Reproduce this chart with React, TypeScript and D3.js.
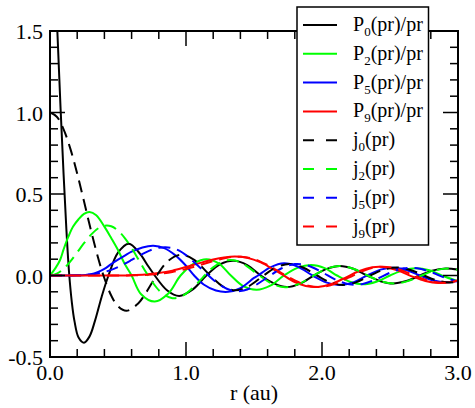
import React from "react";
import * as d3 from "d3";

type Pt = [number, number];

// solid curves, P_l(pr)/pr
const p0: Pt[] = [
  [0, 2.6], [0.03, 2.05], [0.054, 1.5], [0.078, 1.02], [0.1, 0.62], [0.12, 0.29],
  [0.14, 0.02], [0.16, -0.16], [0.18, -0.28], [0.21, -0.38], [0.25, -0.412],
  [0.29, -0.375], [0.33, -0.28], [0.38, -0.13], [0.43, 0.0], [0.5, 0.14],
  [0.58, 0.195], [0.66, 0.135], [0.72, 0.06], [0.77, 0.0], [0.86, -0.09],
  [0.95, -0.125], [1.05, -0.085], [1.15, 0.0], [1.25, 0.068], [1.35, 0.09],
  [1.45, 0.064], [1.55, 0], [1.65, -0.05], [1.74, -0.071], [1.84, -0.05],
  [1.94, 0], [2.04, 0.042], [2.13, 0.058], [2.23, 0.041], [2.33, 0],
  [2.43, -0.035], [2.52, -0.049], [2.62, -0.034], [2.72, 0], [2.81, 0.03],
  [2.91, 0.043], [3.0, 0.036],
];
const p2: Pt[] = [
  [0, 0], [0.04, 0.045], [0.074, 0.095], [0.1, 0.16], [0.135, 0.238], [0.17, 0.3],
  [0.21, 0.345], [0.25, 0.378], [0.29, 0.39], [0.34, 0.37], [0.4, 0.3],
  [0.45, 0.23], [0.5, 0.156], [0.55, 0.07], [0.6, 0.0], [0.67, -0.115],
  [0.77, -0.16], [0.87, -0.11], [0.96, 0.0], [1.06, 0.075], [1.15, 0.1],
  [1.24, 0.075], [1.33, 0], [1.42, -0.065], [1.52, -0.087], [1.62, -0.062],
  [1.72, 0], [1.82, 0.047], [1.92, 0.064], [2.02, 0.045], [2.11, 0],
  [2.21, -0.04], [2.3, -0.054], [2.4, -0.038], [2.5, 0], [2.6, 0.033],
  [2.69, 0.045], [2.79, 0.032], [2.88, 0], [3.0, -0.035],
];
const p5: Pt[] = [
  [0, 0], [0.2, 0.001], [0.3, 0.008], [0.35, 0.02], [0.4, 0.04], [0.45, 0.07],
  [0.5, 0.097], [0.55, 0.122], [0.6, 0.146], [0.68, 0.172], [0.76, 0.182],
  [0.84, 0.168], [0.92, 0.125], [1.0, 0.06], [1.06, 0.0], [1.13, -0.055],
  [1.22, -0.092], [1.31, -0.1], [1.4, -0.077], [1.5, -0.015], [1.53, 0],
  [1.62, 0.05], [1.72, 0.075], [1.82, 0.055], [1.93, 0], [2.03, -0.042],
  [2.13, -0.058], [2.23, -0.042], [2.33, 0], [2.43, 0.036], [2.52, 0.048],
  [2.62, 0.034], [2.72, 0], [2.82, -0.031], [2.91, -0.042], [3.0, -0.034],
];
const p9: Pt[] = [
  [0, 0], [0.5, 0.0005], [0.6, 0.002], [0.7, 0.006], [0.8, 0.015], [0.9, 0.03],
  [1.0, 0.052], [1.1, 0.076], [1.2, 0.098], [1.28, 0.111], [1.36, 0.117],
  [1.45, 0.109], [1.55, 0.08], [1.65, 0.034], [1.7, 0.01], [1.8, -0.04],
  [1.88, -0.064], [1.97, -0.07], [2.07, -0.052], [2.17, -0.014], [2.27, 0.026],
  [2.37, 0.05], [2.45, 0.052], [2.56, 0.03], [2.66, -0.005], [2.76, -0.034],
  [2.86, -0.046], [2.96, -0.038], [3.0, -0.03],
];

// dashed curves, j_l(pr)
const j0: Pt[] = [
  [0, 1.0], [0.05, 0.974], [0.1, 0.897], [0.15, 0.777], [0.2, 0.625], [0.25, 0.455],
  [0.3, 0.281], [0.35, 0.12], [0.393, 0], [0.45, -0.123], [0.5, -0.189],
  [0.562, -0.217], [0.65, -0.17], [0.7, -0.113], [0.785, 0], [0.875, 0.094],
  [0.966, 0.128], [1.06, 0.096], [1.178, 0], [1.27, -0.066], [1.363, -0.091],
  [1.46, -0.066], [1.571, 0], [1.66, 0.049], [1.758, 0.071], [1.86, 0.049],
  [1.963, 0], [2.06, -0.042], [2.153, -0.058], [2.25, -0.042], [2.356, 0],
  [2.45, 0.035], [2.546, 0.049], [2.65, 0.034], [2.749, 0], [2.84, -0.029],
  [2.94, -0.0425], [3.0, -0.038],
];
const j2: Pt[] = [
  [0, 0], [0.05, 0.011], [0.1, 0.041], [0.15, 0.087], [0.2, 0.142], [0.25, 0.198],
  [0.3, 0.249], [0.35, 0.287], [0.4, 0.305], [0.45, 0.302], [0.5, 0.276],
  [0.55, 0.23], [0.6, 0.169], [0.65, 0.099], [0.7, 0.028], [0.75, -0.037],
  [0.8, -0.09], [0.85, -0.124], [0.9, -0.139], [0.95, -0.134], [1.0, -0.111],
  [1.05, -0.075], [1.1, -0.033], [1.15, 0.011], [1.2, 0.05], [1.25, 0.078],
  [1.3, 0.093], [1.35, 0.094], [1.4, 0.081], [1.45, 0.056], [1.54, 0],
  [1.64, -0.054], [1.732, -0.072], [1.84, -0.048], [1.939, 0], [2.04, 0.044],
  [2.131, 0.0586], [2.24, 0.0385], [2.336, 0], [2.44, -0.0376], [2.528, -0.0494],
  [2.63, -0.0344], [2.732, 0], [2.83, 0.031], [2.924, 0.0427], [3.0, 0.0352],
];
const j5: Pt[] = [
  [0, 0], [0.1, 0], [0.2, 0.001], [0.25, 0.0026], [0.3, 0.0061], [0.35, 0.0122],
  [0.4, 0.0215], [0.45, 0.0347], [0.5, 0.0518], [0.55, 0.0723], [0.6, 0.0951],
  [0.65, 0.1185], [0.7, 0.1404], [0.75, 0.1587], [0.8, 0.1703], [0.85, 0.1736],
  [0.9, 0.1681], [0.95, 0.152], [1.0, 0.125], [1.05, 0.089], [1.1, 0.051],
  [1.15, 0.0117], [1.2, -0.0261], [1.25, -0.0581], [1.3, -0.0815], [1.35, -0.0945],
  [1.4, -0.0957], [1.45, -0.086], [1.5, -0.0654], [1.6, -0.0112], [1.7, 0.0428],
  [1.8, 0.0702], [1.9, 0.0599], [2.0, 0.0205], [2.1, -0.0255], [2.2, -0.0541],
  [2.3, -0.0518], [2.4, -0.0223], [2.5, 0.017], [2.6, 0.0439], [2.7, 0.0448],
  [2.8, 0.0211], [2.9, -0.0126], [3.0, -0.0371],
];
const j9: Pt[] = [
  [0, 0], [0.5, 0.0003], [0.6, 0.0012], [0.7, 0.0038], [0.8, 0.0099], [0.9, 0.0214],
  [1.0, 0.0395], [1.1, 0.0634], [1.2, 0.0888], [1.3, 0.1088], [1.35, 0.1143],
  [1.4, 0.1151], [1.5, 0.1015], [1.6, 0.064], [1.7, 0.0166], [1.8, -0.0303],
  [1.9, -0.0628], [2.0, -0.0695], [2.1, -0.0496], [2.2, -0.0115], [2.3, 0.0276],
  [2.4, 0.0516], [2.5, 0.0508], [2.6, 0.0268], [2.7, -0.0079], [2.8, -0.0363],
  [2.9, -0.0451], [3.0, -0.0307],
];

const xMajor = [0, 1, 2, 3];
const yMajor = [-0.5, 0, 0.5, 1.0, 1.5];

const series = [
  { name: "P", sub: "0", tail: "(pr)/pr", data: p0, color: "#000000", dashed: false },
  { name: "P", sub: "2", tail: "(pr)/pr", data: p2, color: "#00ff00", dashed: false },
  { name: "P", sub: "5", tail: "(pr)/pr", data: p5, color: "#0000ff", dashed: false },
  { name: "P", sub: "9", tail: "(pr)/pr", data: p9, color: "#ff0000", dashed: false },
  { name: "j", sub: "0", tail: "(pr)", data: j0, color: "#000000", dashed: true },
  { name: "j", sub: "2", tail: "(pr)", data: j2, color: "#00ff00", dashed: true },
  { name: "j", sub: "5", tail: "(pr)", data: j5, color: "#0000ff", dashed: true },
  { name: "j", sub: "9", tail: "(pr)", data: j9, color: "#ff0000", dashed: true },
];

const W = 475;
const H = 408;
const left = 50, right = 458, top = 31, bottom = 357;
const textStyle = { fontFamily: "'Liberation Serif', 'DejaVu Serif', serif" };

export default function App() {
  const x = d3.scaleLinear().domain([0, 3]).range([left, right]);
  const y = d3.scaleLinear().domain([-0.5, 1.5]).range([bottom, top]);
  const line = d3
    .line<Pt>()
    .x((d) => x(d[0]))
    .y((d) => y(d[1]))
    .curve(d3.curveCatmullRom.alpha(0.5));

  const xMinor = d3.range(0, 3.0001, 0.2);
  const yMinor = d3.range(-0.5, 1.5001, 0.1);

  const legX = 297, legY = 7, legW = 131.5, legH = 238;
  const rowY = (i: number) => 25 + i * 28.8;

  return (
    <svg width={W} height={H} style={{ position: "absolute", left: 0, top: 0, ...textStyle }}>
      <rect width={W} height={H} fill="#fff" />
      <defs>
        <clipPath id="plot">
          <rect x={left} y={top} width={right - left} height={bottom - top} />
        </clipPath>
      </defs>

      <g clipPath="url(#plot)">
        {series.map((s, i) => (
          <path
            key={i}
            d={line(s.data) || ""}
            fill="none"
            stroke={s.color}
            strokeWidth={2}
            strokeDasharray={s.dashed ? "12,7" : undefined}
          />
        ))}
      </g>

      {/* ticks */}
      <g stroke="#000" strokeWidth={1.5}>
        {xMinor.map((t, i) => {
          const big = xMajor.some((m) => Math.abs(m - t) < 1e-6);
          const len = big ? 15 : 8;
          return (
            <g key={"xt" + i}>
              <line x1={x(t)} x2={x(t)} y1={bottom} y2={bottom - len} />
              <line x1={x(t)} x2={x(t)} y1={top} y2={top + len} />
            </g>
          );
        })}
        {yMinor.map((t, i) => {
          const big = yMajor.some((m) => Math.abs(m - t) < 1e-6);
          const len = big ? 15 : 8;
          return (
            <g key={"yt" + i}>
              <line x1={left} x2={left + len} y1={y(t)} y2={y(t)} />
              <line x1={right} x2={right - len} y1={y(t)} y2={y(t)} />
            </g>
          );
        })}
      </g>
      <rect x={left} y={top} width={right - left} height={bottom - top} fill="none" stroke="#000" strokeWidth={2} />

      {xMajor.map((t) => (
        <text key={"xl" + t} x={x(t)} y={380} fontSize={22} textAnchor="middle" style={textStyle}>
          {t.toFixed(1)}
        </text>
      ))}
      {yMajor.map((t) => (
        <text key={"yl" + t} x={43} y={y(t) + 8} fontSize={22} textAnchor="end" style={textStyle}>
          {t.toFixed(1)}
        </text>
      ))}
      <text x={254} y={400} fontSize={22} textAnchor="middle" style={textStyle}>r (au)</text>

      {/* legend */}
      <rect x={legX} y={legY} width={legW} height={legH} fill="#fff" stroke="#000" strokeWidth={1.5} />
      {series.map((s, i) => (
        <g key={"lg" + i}>
          <line
            x1={303}
            x2={337}
            y1={rowY(i)}
            y2={rowY(i)}
            stroke={s.color}
            strokeWidth={2}
            strokeDasharray={s.dashed ? "11,12" : undefined}
          />
          <text x={353} y={rowY(i) + 6} fontSize={20} style={textStyle}>
            {s.name}
            <tspan dy={5} fontSize={13}>{s.sub}</tspan>
            <tspan dy={-5}>{s.tail}</tspan>
          </text>
        </g>
      ))}
    </svg>
  );
}
